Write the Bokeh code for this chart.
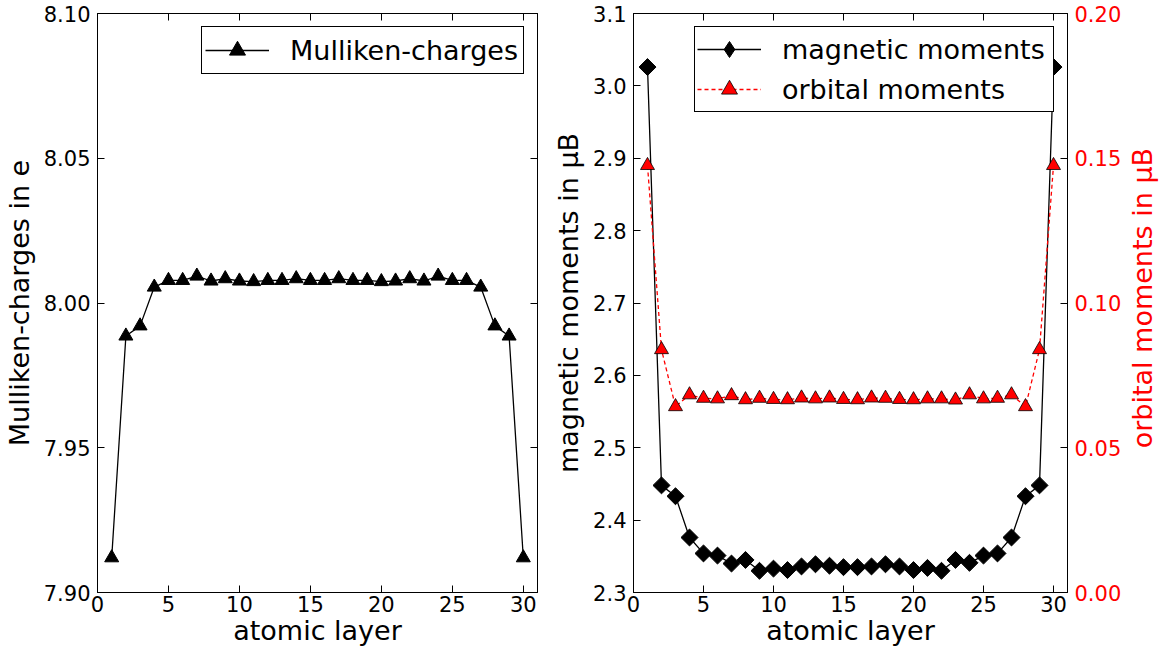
import numpy as np
from bokeh.plotting import figure
from bokeh.layouts import row
from bokeh.models import (Range1d, LinearAxis, Legend, LegendItem, FixedTicker,
                          PrintfTickFormatter, CustomLabelingPolicy, Label)
from bokeh.embed import file_html
from bokeh.resources import INLINE

# ---------------- data ----------------
layers = list(range(1, 31))

charges = [7.912, 7.9886, 7.9921, 8.0055, 8.0078, 8.0078, 8.0093, 8.0076, 8.0084, 8.0076,
           8.0074, 8.0078, 8.0078, 8.0084, 8.0078, 8.0078, 8.0084, 8.0078, 8.0078, 8.0074,
           8.0076, 8.0084, 8.0076, 8.0093, 8.0078, 8.0078, 8.0055, 7.9921, 7.9886, 7.912]

magnetic = [3.026, 2.448, 2.433, 2.376, 2.354, 2.351, 2.340, 2.345, 2.330, 2.333,
            2.331, 2.336, 2.339, 2.337, 2.335, 2.335, 2.336, 2.339, 2.336, 2.331,
            2.334, 2.330, 2.345, 2.341, 2.351, 2.354, 2.376, 2.433, 2.448, 3.026]

orbital = [0.1475, 0.0839, 0.0642, 0.0683, 0.0671, 0.0669, 0.0680, 0.0666, 0.0671, 0.0667,
           0.0666, 0.0672, 0.0669, 0.0672, 0.0667, 0.0666, 0.0672, 0.0671, 0.0667, 0.0666,
           0.0669, 0.0669, 0.0665, 0.0683, 0.0669, 0.0671, 0.0683, 0.0642, 0.0839, 0.1475]

x_ticks = [0, 5, 10, 15, 20, 25, 30]
charge_ticks = [7.90, 7.95, 8.00, 8.05, 8.10]
moment_ticks = [2.3, 2.4, 2.5, 2.6, 2.7, 2.8, 2.9, 3.0, 3.1]
orbital_ticks = [0.00, 0.05, 0.10, 0.15, 0.20]

FONT = "DejaVu Sans"
TICK_FS = "21px"
LABEL_FS = "27px"


def style_axis(ax, color="black", labels=True):
    ax.major_tick_in = 7
    ax.major_tick_out = 0
    ax.minor_tick_line_color = None
    ax.major_tick_line_color = "black"
    ax.axis_line_color = "black"
    ax.major_label_text_font = FONT
    ax.major_label_text_color = color
    ax.axis_label_text_font = FONT
    ax.axis_label_text_font_size = LABEL_FS
    ax.axis_label_text_font_style = "normal"
    ax.axis_label_text_color = color
    if labels:
        ax.major_label_text_font_size = TICK_FS
    else:
        ax.major_label_text_font_size = "0px"
        ax.major_label_standoff = 0
        ax.major_label_policy = CustomLabelingPolicy(code="return new Set()")


def base_fig(width, ml, mr, yr):
    p = figure(width=width, height=655, x_range=Range1d(0, 31), y_range=yr,
               output_backend="svg", toolbar_location=None,
               min_border_left=ml, min_border_right=mr,
               min_border_top=13, min_border_bottom=63)
    p.xgrid.visible = False
    p.ygrid.visible = False
    p.outline_line_color = "black"
    p.outline_line_width = 1
    p.background_fill_color = "white"
    p.border_fill_color = "white"
    xa = p.xaxis[0]
    xa.ticker = FixedTicker(ticks=x_ticks)
    style_axis(xa)
    xa.axis_label = "atomic layer"
    xa.major_label_standoff = 3
    xa.axis_label_standoff = 0
    top = LinearAxis(ticker=FixedTicker(ticks=x_ticks))
    style_axis(top, labels=False)
    p.add_layout(top, "above")
    return p


def make_legend(items, padding, label_width):
    return Legend(items=items, location="top_right", margin=13, padding=padding,
                  spacing=-1, glyph_width=64, glyph_height=40, label_height=29,
                  label_standoff=21, label_width=label_width,
                  label_text_font=FONT, label_text_font_size=LABEL_FS,
                  label_text_color="black",
                  border_line_color="black", border_line_width=1, border_line_alpha=1,
                  background_fill_color="white", background_fill_alpha=1)


# ---------------- left figure ----------------
p1 = base_fig(550, 97, 13, Range1d(7.90, 8.10))
ya = p1.yaxis[0]
ya.ticker = FixedTicker(ticks=charge_ticks)
ya.formatter = PrintfTickFormatter(format="%.2f")
style_axis(ya)
ya.axis_label = "Mulliken-charges in e"
ya.major_label_standoff = 7
ya.axis_label_standoff = 6
r1 = LinearAxis(ticker=FixedTicker(ticks=charge_ticks))
style_axis(r1, labels=False)
p1.add_layout(r1, "right")

l1 = p1.line(layers, charges, line_color="black", line_width=1.3)
s1 = p1.scatter(layers, charges, marker="triangle", size=14,
                fill_color="black", line_color="black")
p1.add_layout(make_legend([LegendItem(label="Mulliken-charges", renderers=[l1, s1])],
                          padding=3, label_width=230), "center")

# ---------------- right figure ----------------
p2 = base_fig(575, 76, 58, Range1d(2.3, 3.1))
p2.extra_y_ranges = {"orb": Range1d(0.0, 0.20)}
ya2 = p2.yaxis[0]
ya2.ticker = FixedTicker(ticks=moment_ticks)
ya2.formatter = PrintfTickFormatter(format="%.1f")
style_axis(ya2)
ya2.axis_label = "magnetic moments in μB"
ya2.major_label_standoff = 7
ya2.axis_label_standoff = 6

r2 = LinearAxis(y_range_name="orb", ticker=FixedTicker(ticks=orbital_ticks),
                formatter=PrintfTickFormatter(format="%.2f"))
style_axis(r2, color="red")
r2.major_label_standoff = 7
p2.add_layout(r2, "right")

lm = p2.line(layers, magnetic, line_color="black", line_width=1.3)
sm = p2.scatter(layers, magnetic, marker="square", angle=np.pi / 4, size=12,
                fill_color="black", line_color="black")
lo = p2.line(layers, orbital, line_color="red", line_width=1.3, line_dash="4 3",
             y_range_name="orb")
so = p2.scatter(layers, orbital, marker="triangle", size=14, fill_color="red",
                line_color="black", line_width=0.8, y_range_name="orb")
# legend-only diamond glyph (legend ignores marker rotation); NaN keeps it off the plot
lm_key = p2.scatter(x=[np.nan], y=[np.nan], marker="diamond", size=16,
                    fill_color="black", line_color="black")

p2.add_layout(make_legend([LegendItem(label="magnetic moments", renderers=[lm, lm_key]),
                           LegendItem(label="orbital moments", renderers=[lo, so])],
                          padding=2, label_width=269), "center")

# ---------------- strip holding the right-axis title ----------------
p3 = figure(width=47, height=655, output_backend="svg", toolbar_location=None,
            x_range=Range1d(0, 1), y_range=Range1d(0, 1), min_border=0)
p3.axis.visible = False
p3.grid.visible = False
p3.outline_line_color = None
p3.add_layout(Label(x=0.36, y=(655 - 322) / 655, text="orbital moments in μB",
                    angle=np.pi / 2, text_align="center", text_baseline="middle",
                    text_font=FONT, text_font_size=LABEL_FS, text_color="red"))

layout = row(p1, p2, p3)
open("out.html", "w").write(file_html(layout, INLINE))
